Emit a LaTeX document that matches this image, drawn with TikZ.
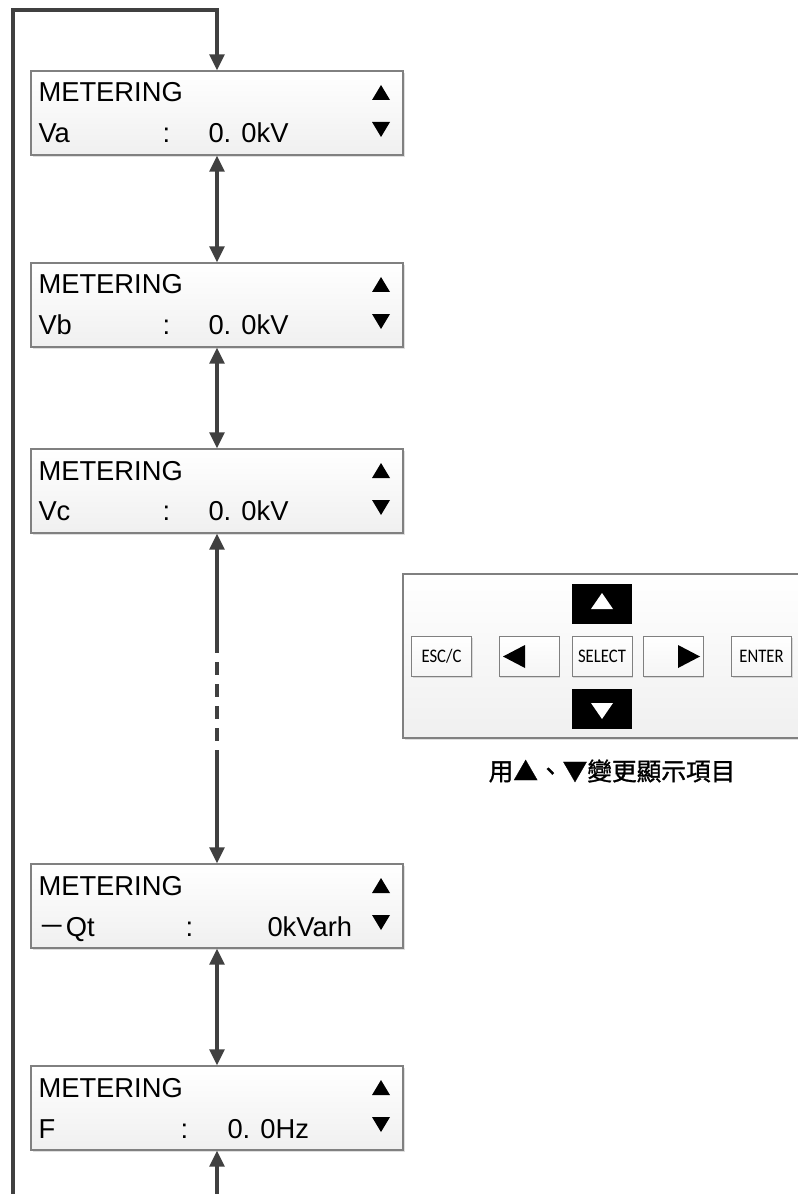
\documentclass[tikz,border=0pt]{standalone}
\usepackage{fontspec}
\setmainfont{Liberation Sans}
\newfontfamily\btnfont{Carlito}
\newfontfamily\cjk{Noto Sans CJK TC}
\newfontfamily\cjkbold[FakeBold=1.2]{Noto Sans CJK TC}
\usetikzlibrary{arrows.meta,shadows,calc}

\definecolor{flowgray}{RGB}{64,64,64}
\definecolor{framegray}{RGB}{128,128,128}

\tikzset{every picture/.style={line width=0.75pt}}
\tikzset{
  lcd/.style={rectangle,draw=framegray,line width=0.9pt,top color=white,bottom color=gray!12,
    minimum width=279pt,minimum height=63pt,inner sep=0pt,
    drop shadow={shadow xshift=1.5pt,shadow yshift=-1.5pt,opacity=0.25,fill=gray}},
  lcdtext/.style={anchor=base west,inner sep=0pt,font=\fontsize{20.5}{23}\selectfont},
  flow/.style={draw=flowgray,line width=2.4pt,-,>={Triangle[width=11pt,length=12pt]}},
  key/.style={rectangle,draw=framegray,line width=0.75pt,top color=white,bottom color=gray!8,
    minimum width=45pt,minimum height=30.5pt,inner sep=0pt,font=\btnfont\fontsize{12.5}{14}\selectfont,
    drop shadow={shadow xshift=1pt,shadow yshift=-1pt,opacity=0.25,fill=gray}},
  blackkey/.style={rectangle,fill=black,minimum width=45pt,minimum height=30pt,inner sep=0pt}
}

\begin{document}
\begin{tikzpicture}[x=0.75pt,y=0.75pt,yscale=-1,xscale=1]
\useasboundingbox (0,0) rectangle (797,1194);

%Shape: LCD boxes
\node [lcd] (va) at (217,113) {};
\node [lcd] (vb) at (217,305) {};
\node [lcd] (vc) at (217,491) {};
\node [lcd] (qt) at (217,906) {};
\node [lcd] (f)  at (217,1108) {};

% Text Node
\node [lcdtext] (va1) at (38,102) {METERING};
\node [lcdtext] (va2) at (38,143) {Va};
\node [lcdtext] (va3) at (162,143) {:};
\node [lcdtext] (va4) at (208,143) {0. 0kV};
% Text Node
\node [lcdtext] (vb1) at (38,294) {METERING};
\node [lcdtext] (vb2) at (38,334) {Vb};
\node [lcdtext] (vb3) at (162,334) {:};
\node [lcdtext] (vb4) at (208,334) {0. 0kV};
% Text Node
\node [lcdtext] (vc1) at (38,480) {METERING};
\node [lcdtext] (vc2) at (38,520) {Vc};
\node [lcdtext] (vc3) at (162,520) {:};
\node [lcdtext] (vc4) at (208,520) {0. 0kV};
% Text Node
\node [lcdtext] (qt1) at (38,895) {METERING};
\node [lcdtext] (qt2) at (38,936) {{\cjk －}Qt};
\node [lcdtext] (qt3) at (185,936) {:};
\node [lcdtext] (qt4) at (267,936) {0kVarh};
% Text Node
\node [lcdtext] (f1) at (38,1097) {METERING};
\node [lcdtext] (f2) at (38,1138) {F};
\node [lcdtext] (f3) at (180,1138) {:};
\node [lcdtext] (f4) at (227,1138) {0. 0Hz};

%Shape: Triangles
\fill (372,100) -- (390,100) -- (381,85) -- cycle;
\fill (372,122) -- (390,122) -- (381,137) -- cycle;
\fill (372,292) -- (390,292) -- (381,277) -- cycle;
\fill (372,314) -- (390,314) -- (381,329) -- cycle;
\fill (372,478) -- (390,478) -- (381,463) -- cycle;
\fill (372,500) -- (390,500) -- (381,515) -- cycle;
\fill (372,893) -- (390,893) -- (381,878) -- cycle;
\fill (372,915) -- (390,915) -- (381,930) -- cycle;
\fill (372,1095) -- (390,1095) -- (381,1080) -- cycle;
\fill (372,1117) -- (390,1117) -- (381,1132) -- cycle;

%Straight Lines
\coordinate (loopin) at (13,1194);
\coordinate (loopturn) at (13,10);
\coordinate (dashtop) at (217,640);
\coordinate (dashbot) at (217,758);
\coordinate (fout) at (217,1194);
\draw [flow,->] (loopin) -- (loopturn) -| (va.north);
\draw [flow,<->] (va.south) -- (vb.north);
\draw [flow,<->] (vb.south) -- (vc.north);
\draw [flow,<-] (vc.south) -- (dashtop);
\draw [flow,dash pattern={on 10pt off 6.5pt}] (dashtop) -- (dashbot);
\draw [flow,->] (dashbot) -- (qt.north);
\draw [flow,<->] (qt.south) -- (f.north);
\draw [flow,<-] (f.south) -- (fout);

%Shape: Keypad panel
\draw [draw=framegray,line width=0.9pt,top color=white,bottom color=gray!12,
  drop shadow={shadow xshift=1.5pt,shadow yshift=-1.5pt,opacity=0.25,fill=gray}] (403,574) rectangle (820,738);

% Keys
\node [key] (esc) at (441.5,656.5) {\scalebox{1}[1.15]{ESC/C}};
\node [key] (left) at (529,656.5) {};
\node [key] (sel) at (602,656.5) {\scalebox{1}[1.15]{SELECT}};
\node [key] (right) at (673,656.5) {};
\node [key] (enter) at (761.5,656.5) {\scalebox{1}[1.15]{ENTER}};
\node [blackkey] (up) at (602,604) {};
\node [blackkey] (down) at (602,709) {};

\fill (503,656.5) -- (525,645) -- (525,668) -- cycle;
\fill (700,656.5) -- (678,645) -- (678,668) -- cycle;
\fill [white] (591,609) -- (613,609) -- (602,593) -- cycle;
\fill [white] (591,703) -- (613,703) -- (602,719) -- cycle;

% Text Node
\node [inner sep=0pt,font=\cjkbold\fontsize{18.5}{22}\selectfont] (caption) at (612,771) {用▲、▼變更顯示項目};

\end{tikzpicture}
\end{document}
